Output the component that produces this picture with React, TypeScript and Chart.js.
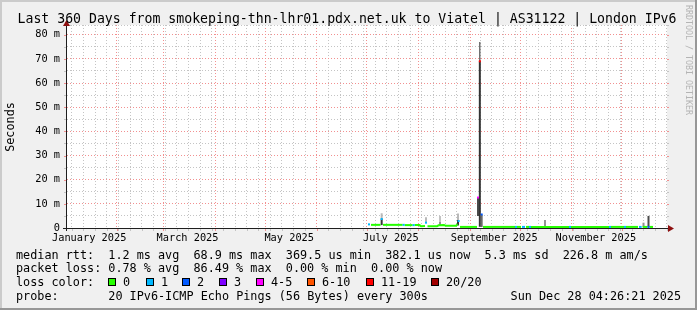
import React, { useEffect, useRef } from 'react';
import { Chart, registerables } from 'chart.js';

Chart.register(...registerables);

// ---------- time base ----------
const START_MS = Date.UTC(2025, 0, 2, 4, 26, 21); // 360 days before Sun Dec 28 04:26:21 2025
const DAY_MS = 86400000;
const dayOf = (y: number, m: number, d: number, h = 0) => (Date.UTC(y, m, d, h) - START_MS) / DAY_MS;
const SPAN_DAYS = 360;
const Y_MAX = 84;

// ---------- tick labels ----------
const monthLabelNames = ['January 2025', 'March 2025', 'May 2025', 'July 2025', 'September 2025', 'November 2025'];
const monthLabelMonths = [0, 2, 4, 6, 8, 10];
const majorGridMonths = [1, 2, 3, 4, 5, 6, 7, 8, 9, 10, 11];
const yLabelValues = [0, 10, 20, 30, 40, 50, 60, 70, 80];
const yLabelTexts = ['0', '10 m', '20 m', '30 m', '40 m', '50 m', '60 m', '70 m', '80 m'];
const yMinorValues = [5, 15, 25, 35, 45, 55, 65, 75, Y_MAX];

// ---------- median rtt (days since start, ms, loss class index) ----------
const medianDays = [181.2, 182.4, 188.1, 188.8, 189.6, 201.4, 202.0, 202.6, 207.4, 208.0, 208.6, 211.5, 212.4, 214.8, 215.4, 216.3, 222.0, 222.9, 226.2, 227.4, 233.4, 234.3, 235.0, 235.8, 246.0, 246.6, 247.7, 248.8, 249.6, 268.8, 269.4, 270.0, 272.4, 273.0, 274.8, 275.4, 277.2, 277.8, 278.4, 301.2, 301.8, 302.4, 325.2, 325.8, 326.4, 334.2, 334.8, 335.4, 342.6, 343.2, 344.8, 345.4, 348.3, 348.9, 349.5, 351.6];
const medianRtt = [1.5, 1.3, 1.3, 3.7, 1.3, 1.3, 1.3, 1.2, 1.2, 1.2, 1.2, 1.2, 0.7, 0.8, 2.2, 0.7, 0.7, 1.1, 1.2, 0.9, 0.9, 1.6, 2.9, 0.45, 0.45, 12.6, 69, 5.6, 0.45, 0.45, 0.45, 0.45, 0.45, 0.45, 0.45, 0.45, 0.45, 0.45, 0.45, 0.45, 0.45, 0.45, 0.45, 0.45, 0.45, 0.45, 0.45, 0.45, 0.45, 0.45, 0.45, 0.45, 0.45, 0.45, 0.45, 0.45];
const medianLoss = [1, 0, 0, 1, 0, 0, 1, 0, 0, 1, 0, 0, 0, 0, 1, 0, 0, 0, 0, 0, 0, 0, 1, 0, 0, 4, 6, 2, 0, 0, 1, 0, 0, 1, 1, 0, 0, 1, 0, 0, 1, 0, 0, 1, 0, 0, 1, 0, 0, 1, 1, 0, 0, 2, 0, 0];

// ---------- smoke (ping spread) ----------
const smokeDays = [188.8, 188.8, 215.4, 223.8, 223.8, 234.6, 234.6, 246.6, 247.7, 248.8, 345.9, 348.9];
const smokeLow = [3.9, 1.2, 2.2, 1.2, 1.2, 3.3, 1.0, 5.0, 0.5, 0.4, 0.4, 0.4];
const smokeHigh = [6.1, 3.9, 4.4, 5.0, 2.5, 6.0, 3.3, 12.6, 69, 5.5, 2.2, 5.0];
const smokeDensity = [0.25, 0.9, 0.25, 0.2, 0.45, 0.25, 0.9, 0.8, 0.92, 0.65, 0.45, 0.8];
// max ping whiskers
const maxDays = [247.7, 286.8];
const maxLow = [69, 0.4];
const maxHigh = [77, 3.3];

// ---------- legend ----------
const titleText = 'Last 360 Days from smokeping-thn-lhr01.pdx.net.uk to Viatel | AS31122 | London IPv6';
const legendRtt = ['median rtt:', '1.2 ms avg', '68.9 ms max', '369.5 us min', '382.1 us now', '5.3 ms sd', '226.8 m am/s'];
const legendLoss = ['packet loss:', '0.78 % avg', '86.49 % max', '0.00 % min', '0.00 % now'];
const lossLabels = ['0', '1', '2', '3', '4-5', '6-10', '11-19', '20/20'];
const lossColors = ['#26ff00', '#00b8ff', '#0059ff', '#7e00ff', '#ff00ff', '#ff5500', '#ff0000', '#a10000'];
const probeText = ['probe:', '20 IPv6-ICMP Echo Pings (56 Bytes) every 300s'];
const stampText = 'Sun Dec 28 04:26:21 2025';
const watermark = 'RRDTOOL / TOBI OETIKER';

const W = 697;
const H = 310;
const MONO = '"DejaVu Sans Mono", monospace';
const MAJOR_GRID = '#f29090';
const MINOR_GRID = '#c4c4c4';

const monthStartDays = majorGridMonths.map((m) => dayOf(2025, m, 1));
const weekDays: number[] = [];
for (let d = dayOf(2025, 0, 5); d < SPAN_DAYS; d += 7) {
  if (!monthStartDays.some((m) => Math.abs(m - d) < 0.01)) weekDays.push(d);
}
const xGridDays = [...monthStartDays, ...weekDays].sort((a, b) => a - b);
const monthLabelDays = monthLabelMonths.map((m) => dayOf(2025, m, 15, 12));

const isMajorX = (v: number) => monthStartDays.some((m) => Math.abs(m - v) < 0.01);
const isMajorY = (v: number) => yLabelValues.includes(v);

const shade = (d: number) => {
  const g = Math.round(235 - d * 200);
  return `rgb(${g},${g},${g})`;
};

const isolated = (i: number) =>
  (i === 0 || medianLoss[i - 1] !== medianLoss[i]) &&
  (i === medianLoss.length - 1 || medianLoss[i + 1] !== medianLoss[i]);

const decor = {
  id: 'rrdDecor',
  beforeDraw(chart: any) {
    const { ctx, chartArea: a } = chart;
    ctx.save();
    ctx.fillStyle = '#f0f0f0';
    ctx.fillRect(0, 0, W, H);
    ctx.fillStyle = '#cbcbcb';
    ctx.fillRect(0, 0, W, 2);
    ctx.fillRect(0, 0, 2, H);
    ctx.fillStyle = '#979797';
    ctx.fillRect(0, H - 2, W, 2);
    ctx.fillRect(W - 2, 0, 2, H);
    ctx.fillStyle = '#ffffff';
    ctx.fillRect(a.left, a.top, a.right - a.left, a.bottom - a.top);
    ctx.restore();
  },
  afterDatasetsDraw(chart: any) {
    const { ctx, chartArea: a, scales } = chart;
    const xs = scales.x;
    const ys = scales.y;
    const x0 = Math.round(xs.getPixelForValue(0)) - 1;
    const y0 = Math.round(ys.getPixelForValue(0));
    ctx.save();
    for (const d of xGridDays) {
      const px = Math.round(xs.getPixelForValue(d));
      ctx.fillStyle = isMajorX(d) ? MAJOR_GRID : MINOR_GRID;
      ctx.fillRect(px, y0 + 1, 1, 2);
    }
    for (const v of [...yLabelValues, ...yMinorValues]) {
      if (v === 0) continue;
      const py = Math.round(ys.getPixelForValue(v));
      ctx.fillStyle = isMajorY(v) ? MAJOR_GRID : MINOR_GRID;
      ctx.fillRect(x0 - 2, py, 2, 1);
      ctx.fillRect(Math.round(a.right), py, 2, 1);
    }
    ctx.fillStyle = '#1e1e1e';
    ctx.fillRect(x0 - 3, y0, a.right - x0 + 6, 1);
    ctx.fillRect(x0, a.top - 2, 1, y0 - a.top + 5);
    ctx.fillStyle = '#8e1010';
    ctx.beginPath();
    ctx.moveTo(x0 + 0.5, a.top - 5);
    ctx.lineTo(x0 - 3, a.top + 1);
    ctx.lineTo(x0 + 4, a.top + 1);
    ctx.closePath();
    ctx.fill();
    const rx = Math.round(a.right);
    ctx.beginPath();
    ctx.moveTo(rx + 7, y0 + 0.5);
    ctx.lineTo(rx + 1, y0 - 3);
    ctx.lineTo(rx + 1, y0 + 4);
    ctx.closePath();
    ctx.fill();
    ctx.restore();
  },
  afterDraw(chart: any) {
    const { ctx } = chart;
    ctx.save();
    ctx.fillStyle = '#000';
    ctx.textBaseline = 'alphabetic';
    ctx.font = `13.2px ${MONO}`;
    ctx.textAlign = 'center';
    ctx.fillText(titleText, 347, 23.3);
    ctx.save();
    ctx.font = `11.8px ${MONO}`;
    ctx.translate(10.5, 127);
    ctx.rotate(-Math.PI / 2);
    ctx.textBaseline = 'middle';
    ctx.fillText('Seconds', 0, 0);
    ctx.restore();
    ctx.save();
    ctx.font = `8.3px ${MONO}`;
    ctx.fillStyle = '#b4b4b4';
    ctx.translate(688, 5);
    ctx.rotate(Math.PI / 2);
    ctx.textAlign = 'left';
    ctx.textBaseline = 'middle';
    ctx.fillText(watermark, 0, 0);
    ctx.restore();
    ctx.font = `11.8px ${MONO}`;
    ctx.textAlign = 'left';
    const cw = 7.1;
    const col = (c: number) => 16 + c * cw;
    const rttCols = [0, 13, 25, 38, 52, 66, 77];
    legendRtt.forEach((t, i) => ctx.fillText(t, col(rttCols[i]), 258.5));
    const lossCols = [0, 13, 25, 38, 50];
    legendLoss.forEach((t, i) => ctx.fillText(t, col(lossCols[i]), 272.2));
    ctx.fillText('loss color:', col(0), 285.9);
    const boxX = [108, 146, 182, 219, 256, 307, 366, 431];
    lossLabels.forEach((t, i) => {
      ctx.fillStyle = '#000';
      ctx.fillRect(boxX[i], 278, 8, 8);
      ctx.fillStyle = lossColors[i];
      ctx.fillRect(boxX[i] + 1, 279, 6, 6);
      ctx.fillStyle = '#000';
      ctx.fillText(t, boxX[i] + 15, 285.9);
    });
    ctx.fillText(probeText[0], col(0), 299.6);
    ctx.fillText(probeText[1], col(13), 299.6);
    ctx.textAlign = 'right';
    ctx.fillText(stampText, 681, 299.6);
    ctx.restore();
  },
};

export default function App() {
  const ref = useRef<HTMLCanvasElement | null>(null);
  useEffect(() => {
    document.body.style.margin = '0';
    const canvas = ref.current;
    if (!canvas) return;
    const chart = new Chart(canvas, {
      type: 'line',
      data: {
        datasets: [
          {
            type: 'line',
            label: 'median rtt',
            data: medianDays.map((d, i) => ({ x: d, y: medianRtt[i] })),
            borderColor: lossColors[0],
            borderWidth: 2,
            borderCapStyle: 'butt',
            tension: 0,
            fill: false,
            order: 0,
            pointStyle: 'rect',
            pointRadius: (c: any) => (isolated(c.dataIndex) ? 1.42 : 0),
            pointBorderWidth: 0,
            pointBackgroundColor: (c: any) => lossColors[medianLoss[c.dataIndex]],
            segment: {
              borderColor: (c: any) =>
                medianLoss[c.p0DataIndex] === medianLoss[c.p1DataIndex]
                  ? lossColors[medianLoss[c.p1DataIndex]]
                  : 'rgba(0,0,0,0)',
            },
          } as any,
          {
            type: 'bar',
            label: 'max',
            data: maxDays.map((d, i) => ({ x: d, y: [maxLow[i], maxHigh[i]] })),
            backgroundColor: '#2a2a2a',
            barThickness: 1,
            grouped: false,
            inflateAmount: 0,
            borderWidth: 0,
            order: 1,
          } as any,
          {
            type: 'bar',
            label: 'smoke',
            data: smokeDays.map((d, i) => ({ x: d, y: [smokeLow[i], smokeHigh[i]] })),
            backgroundColor: (c: any) => shade(smokeDensity[c.dataIndex] ?? 0.5),
            barThickness: 2,
            grouped: false,
            inflateAmount: 0,
            borderWidth: 0,
            order: 2,
          } as any,
        ],
      },
      options: {
        animation: false,
        responsive: false,
        devicePixelRatio: 1,
        events: [],
        layout: { padding: { left: 0, top: 25, right: 30, bottom: 0 } },
        plugins: { legend: { display: false }, tooltip: { enabled: false }, title: { display: false } },
        scales: {
          x: {
            type: 'linear',
            position: 'bottom',
            min: 0,
            max: SPAN_DAYS,
            offset: false,
            grid: {
              offset: false,
              drawTicks: false,
              lineWidth: 1,
              color: (c: any) => (c.tick && isMajorX(c.tick.value) ? MAJOR_GRID : MINOR_GRID),
            },
            border: { display: false, dash: [1, 2] },
            ticks: { display: false },
            afterBuildTicks: (s: any) => {
              s.ticks = xGridDays.map((v) => ({ value: v }));
            },
            afterFit: (s: any) => {
              s.height = 0;
            },
          },
          xl: {
            type: 'linear',
            position: 'bottom',
            min: 0,
            max: SPAN_DAYS,
            offset: false,
            grid: { display: false, drawTicks: false },
            border: { display: false },
            ticks: {
              autoSkip: false,
              maxRotation: 0,
              minRotation: 0,
              padding: 4,
              color: '#000',
              font: { family: MONO, size: 10.3 },
              callback: (_v: any, i: number) => monthLabelNames[i],
            },
            afterBuildTicks: (s: any) => {
              s.ticks = monthLabelDays.map((v) => ({ value: v }));
            },
            afterFit: (s: any) => {
              s.height = 82;
            },
          },
          y: {
            type: 'linear',
            min: 0,
            max: Y_MAX,
            grid: {
              drawTicks: false,
              lineWidth: 1,
              color: (c: any) => (c.tick && isMajorY(c.tick.value) ? MAJOR_GRID : MINOR_GRID),
            },
            border: { display: false, dash: [1, 2] },
            ticks: {
              autoSkip: false,
              padding: 7,
              color: '#000',
              font: { family: MONO, size: 10.3 },
              callback: (v: any) => {
                const k = yLabelValues.indexOf(Number(v));
                return k >= 0 ? yLabelTexts[k] : '';
              },
            },
            afterBuildTicks: (s: any) => {
              s.ticks = [...yLabelValues, ...yMinorValues].sort((a, b) => a - b).map((v) => ({ value: v }));
            },
            afterFit: (s: any) => {
              s.width = 67;
            },
          },
        } as any,
      },
      plugins: [decor],
    } as any);
    return () => chart.destroy();
  }, []);
  return (
    <div style={{ width: W, height: H }}>
      <canvas ref={ref} width={W} height={H} style={{ display: 'block', width: W, height: H }} />
    </div>
  );
}
